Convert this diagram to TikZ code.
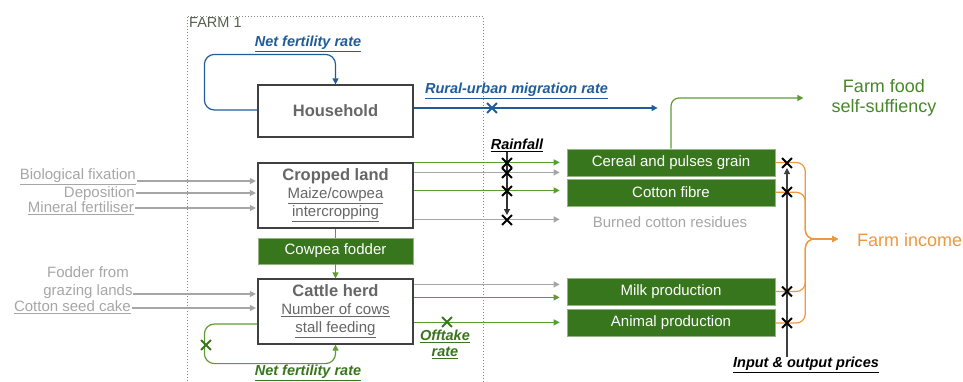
\documentclass[tikz,border=0pt]{standalone}
\usepackage{fontspec}
\setmainfont{Liberation Sans}
\usetikzlibrary{arrows.meta,calc,shapes.misc}
\definecolor{cblue}{RGB}{31,92,153}
\definecolor{cgreenF}{RGB}{56,118,29}
\definecolor{cgreenL}{RGB}{95,155,50}
\definecolor{cgreenT}{RGB}{70,135,40}
\definecolor{cgray}{RGB}{166,166,166}
\definecolor{cdark}{RGB}{102,102,102}
\definecolor{corange}{RGB}{240,150,60}
\definecolor{cbox}{RGB}{64,64,64}
\definecolor{cfarm}{RGB}{85,95,75}
\newcommand\fs[1]{\fontsize{#1}{#1}\selectfont}
\newcommand\myul[1]{\underline{#1}}
\begin{document}
\begin{tikzpicture}[x=1pt,y=-1pt,
  tip/.style={-{Triangle[length=6pt,width=6pt]}},
  conn/.style={line width=1.2pt},
  wbox/.style={draw=cbox,line width=1.2pt,fill=white,minimum width=155pt,align=center,text=cdark,inner sep=0pt},
  gbox/.style={fill=cgreenF,draw=cgreenF!55!white,line width=0.6pt,minimum width=208pt,minimum height=27pt,text=white,font=\fs{15},inner sep=0pt},
  xm/.style={cross out,draw=black,line width=1.9pt,minimum size=8pt,inner sep=0pt},
  lbl/.style={font=\bfseries\itshape\fs{14.5},inner sep=0pt},
  side/.style={text=cgray,font=\fs{15},inner sep=0pt}]
\useasboundingbox (0,0) rectangle (963,381);

% farm frame
\draw[cgray!80!black,line width=0.9pt,dash pattern=on 1pt off 2pt] (187,390) -- (187,16) -- (483,16) -- (483,390);
\node[anchor=north west,text=cfarm,font=\fs{14.5},inner sep=0pt] (farm) at (189,17) {FARM 1};

% main boxes
\node[wbox,minimum height=52pt,font=\bfseries\fs{16.5}] (house) at (335.5,111) {Household};
\node[wbox,minimum height=65pt,font=\fontsize{15}{18}\selectfont] (crop) at (335.5,195.5)
  {{\fontsize{16.5}{18}\selectfont\bfseries Cropped land}\\\myul{Maize/cowpea}\\\myul{intercropping}};
\node[gbox,minimum width=155pt,minimum height=26pt] (cowpea) at (335.5,251) {Cowpea fodder};
\node[wbox,minimum height=65pt,font=\fontsize{15}{18}\selectfont] (cattle) at (335.5,311.5)
  {{\fontsize{16.5}{18}\selectfont\bfseries Cattle herd}\\\myul{Number of cows}\\\myul{stall feeding}};

\node[gbox] (cereal) at (671,162.5) {Cereal and pulses grain};
\node[gbox] (cotton) at (671,192.3) {Cotton fibre};
\node[gbox] (milk) at (671,291.5) {Milk production};
\node[gbox] (animal) at (671,323) {Animal production};
\node[side] (burned) at (670,222) {Burned cotton residues};

% outcome texts
\node[text=cgreenT,font=\fontsize{18}{20}\selectfont,align=center,inner sep=0pt] (food) at (884,98) {Farm food\\self-suffiency};
\node[text=corange,font=\fs{18},anchor=west,inner sep=0pt] (income) at (857,240) {Farm income};

% labels
\node[lbl,text=cblue] (nfr1) at (308,44) {\myul{Net fertility rate}};
\node[lbl,text=cblue] (rur) at (516.5,91) {\myul{Rural-urban migration rate}};
\node[lbl,text=black] (rain) at (517,145) {\myul{Rainfall}};
\node[lbl,text=cgreenF,align=center,font=\bfseries\itshape\fontsize{14.5}{16}\selectfont] (off) at (445,344) {\myul{Offtake}\\\myul{rate}};
\node[lbl,text=cgreenF] (nfr2) at (308,373) {\myul{Net fertility rate}};
\node[lbl,text=black] (prices) at (806,365) {\myul{Input \& output prices}};

% left inputs
\node[side,anchor=east] (bio) at (136,177) {\myul{Biological fixation}};
\node[side,anchor=east] (dep) at (135,194) {Deposition};
\node[side,anchor=east] (min) at (134,208) {\myul{Mineral fertiliser}};
\node[side,align=center,font=\fontsize{15}{18}\selectfont] (fod) at (88,283) {Fodder from\\grazing lands};
\node[side,anchor=east] (seed) at (131,307) {\myul{Cotton seed cake}};

\coordinate (bioS) at ($(bio.east)+(1,4)$);
\coordinate (depS) at ($(dep.east)+(1,-1)$);
\coordinate (minS) at ($(min.east)+(1,0)$);
\coordinate (fodS) at ($(fod.east)+(0,11)$);
\coordinate (seedS) at ($(seed.east)+(1,1)$);
\foreach \s/\t in {bioS/crop,depS/crop,minS/crop,fodS/cattle,seedS/cattle}
  \draw[conn,cgray,tip,shorten >=1.5pt] (\s) -- (\s -| \t.west);

% household loops & migration
\draw[conn,cblue,tip,rounded corners=10pt] ($(house.west)+(0,-1)$) -- ++(-53,0) |- ($(house.north)+(0,-30)$) -- (house.north);
\coordinate (migE) at ($(house.east)+(244,-3)$);
\draw[conn,cblue,tip] ($(house.east)+(0,-3)$) -- (migE);

% cropped land
\draw[conn,cgreenL] (crop.south) -- (cowpea.north);
\draw[conn,cgreenL,tip] (cowpea.south) -- (cattle.north);
\coordinate (c1) at (crop.north east);
\coordinate (c2) at ($(crop.north east)+(0,10)$);
\coordinate (c3) at ($(crop.north east)+(0,28)$);
\coordinate (c4) at ($(crop.north east)+(0,57)$);
\draw[conn,cgreenL,tip,shorten >=7pt] (c1) -- (c1 -| cereal.west);
\draw[conn,cgray,tip,shorten >=7pt] (c2) -- (c2 -| cereal.west);
\draw[conn,cgreenL,tip,shorten >=7pt] (c3) -- (c3 -| cotton.west);
\draw[conn,cgray,tip,shorten >=7pt] (c4) -- (c4 -| cotton.west);

% cattle
\draw[conn,cgreenL,tip,rounded corners=10pt] ($(cattle.west)+(0,12.5)$) -- ++(-53,0) |- ($(cattle.south)+(0,19)$) -- (cattle.south);
\coordinate (k1) at ($(cattle.north east)+(0,6)$);
\coordinate (k2) at ($(cattle.north east)+(0,19)$);
\coordinate (k3) at ($(cattle.north east)+(0,44)$);
\draw[conn,cgray,tip,shorten >=7pt] (k1) -- (k1 -| milk.west);
\draw[conn,cgreenL,tip,shorten >=7pt] (k2) -- (k2 -| milk.west);
\draw[conn,cgreenL,tip,shorten >=7pt] (k3) -- (k3 -| animal.west);

% food self-sufficiency
\coordinate (foodE) at ($(food.west)+(-28,0)$);
\draw[conn,cgreenL,tip,rounded corners=8pt] (cereal.north) |- (foodE);

% income brace
\coordinate (incE) at ($(income.west)+(-19,-1)$);
\foreach \b in {cereal,cotton,milk,animal}
  \draw[conn,corange,tip,rounded corners=9pt] (\b.east) -- ++(30,0) |- (incE);

% rainfall & prices
\coordinate (rainE) at (507,215);
\draw[conn,black!80,tip] (rain.south -| rainE) -- (rainE);
\coordinate (priceE) at (787,168);
\draw[conn,black!75,tip] (prices.north -| priceE) -- (priceE);

% crosses
\node[xm,draw=cblue] (xb) at (492,108) {};
\node[xm] (xr1) at (507,163) {};
\node[xm] (xr2) at (507,173) {};
\node[xm] (xr3) at (507,191) {};
\node[xm] (xr4) at (507,220) {};
\node[xm] (xp1) at (787,163) {};
\node[xm] (xp2) at (787,192) {};
\node[xm] (xp3) at (787,291.5) {};
\node[xm] (xp4) at (787,323) {};
\node[xm,draw=cgreenF] (xo) at (447,322) {};
\node[xm,draw=cgreenF] (xn) at (206,345) {};
\end{tikzpicture}
\end{document}
